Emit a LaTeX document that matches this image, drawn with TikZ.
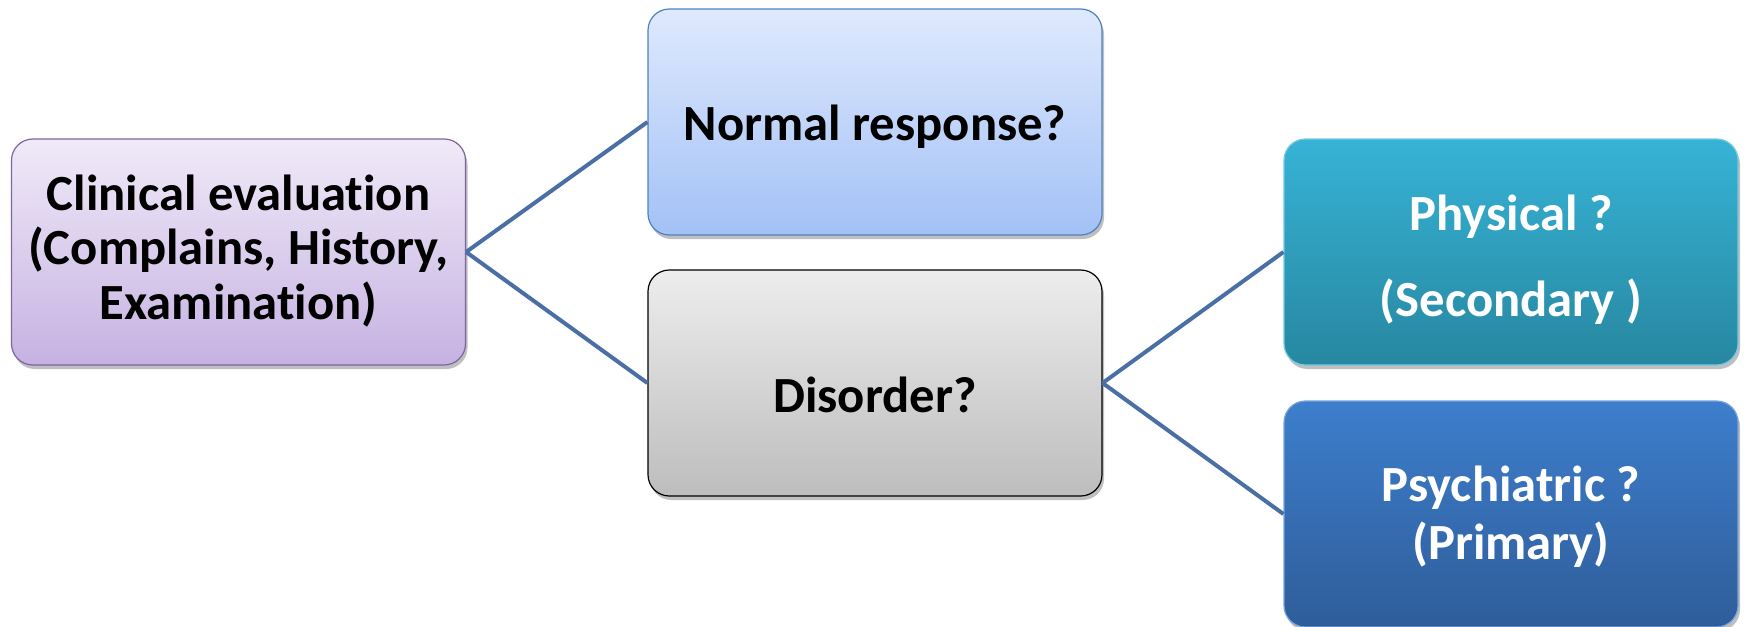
\documentclass[tikz,border=0pt]{standalone}
\usepackage{fontspec}
\setmainfont[Ligatures=NoCommon]{Carlito}
\usetikzlibrary{shadows}
\definecolor{linkc}{HTML}{4A6FA5}
\definecolor{clinT}{HTML}{F0EAF8}
\definecolor{clinB}{HTML}{C6B2E2}
\definecolor{clinD}{HTML}{8064A2}
\definecolor{normT}{HTML}{DFE9FD}
\definecolor{normB}{HTML}{A3C1F6}
\definecolor{normD}{HTML}{4F81BD}
\definecolor{disT}{HTML}{EDEDED}
\definecolor{disB}{HTML}{BDBDBD}
\definecolor{physT}{HTML}{37B3D6}
\definecolor{physB}{HTML}{2787A0}
\definecolor{psyT}{HTML}{3D7ECC}
\definecolor{psyB}{HTML}{2F5D9A}
\newcommand\shtxt[2]{\raisebox{#1}[0pt][0pt]{\begin{tabular}{@{}c@{}}#2\end{tabular}}}
\tikzset{
  box/.style={rectangle, rounded corners=16pt, minimum width=340.5pt, minimum height=169.5pt,
    inner sep=0pt, align=center, line width=0.9pt,
    font=\fontsize{38}{41}\selectfont\bfseries,
    drop shadow={shadow xshift=1.5pt, shadow yshift=-3pt, opacity=0.25, fill=black}},
  link/.style={draw=linkc, line width=3pt},
}
\begin{document}
\begin{tikzpicture}[x=0.75pt, y=-0.75pt]
\useasboundingbox (0,0) rectangle (1747,626);
\node[box, draw=clinD, top color=clinT, bottom color=clinB] (clin) at (238.5,252)
  {\shtxt{-7.6pt}{Clinical evaluation\\(Complains, History,\\Examination)}};
\node[box, draw=normD, top color=normT, bottom color=normB] (norm) at (875,122)
  {\shtxt{-11.9pt}{Normal response?}};
\node[box, draw=black, top color=disT, bottom color=disB] (dis) at (875,383)
  {\shtxt{-20.3pt}{Disorder?}};
\node[box, draw=physT!70!white, top color=physT, bottom color=physB, text=white,
  font=\fontsize{38}{64}\selectfont\bfseries] (phys) at (1511,252)
  {\shtxt{-9.5pt}{Physical ?\\(Secondary )}};
\node[box, draw=psyT!70!white, top color=psyT, bottom color=psyB, text=white,
  font=\fontsize{38}{43.5}\selectfont\bfseries] (psy) at (1511,514)
  {\shtxt{-10pt}{Psychiatric ?\\(Primary)}};
\draw[link] (clin.east) -- (norm.west);
\draw[link] (clin.east) -- (dis.west);
\draw[link] (dis.east) -- (phys.west);
\draw[link] (dis.east) -- (psy.west);
\end{tikzpicture}
\end{document}
